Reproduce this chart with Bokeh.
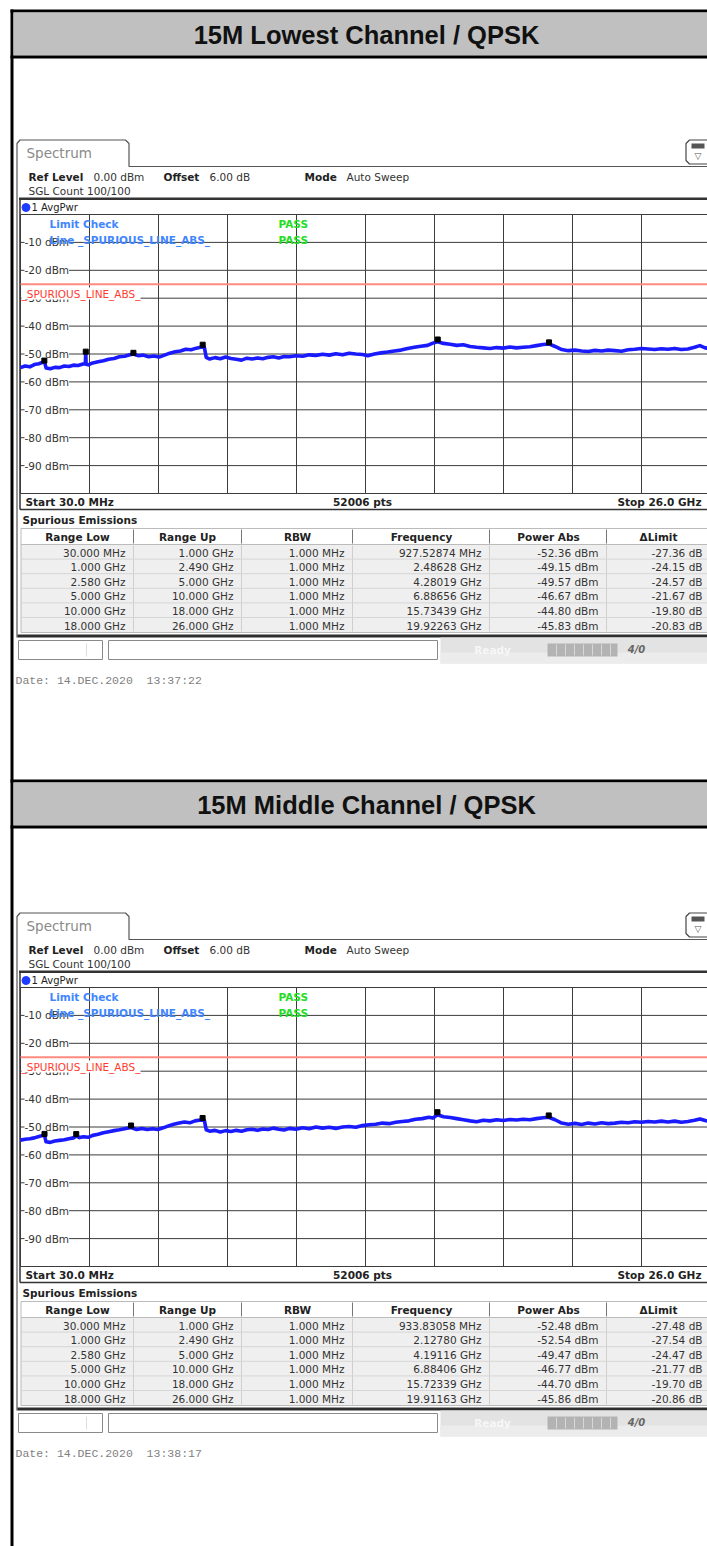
from bokeh.plotting import figure
from bokeh.models import Range1d
from bokeh.core.properties import value
from bokeh.embed import file_html
from bokeh.resources import INLINE

# ---------------- data ----------------
titles = ["15M Lowest Channel / QPSK", "15M Middle Channel / QPSK"]
dates = ["Date: 14.DEC.2020  13:37:22", "Date: 14.DEC.2020  13:38:17"]
f_start_ghz = 0.03
f_stop_ghz = 26.0
n_points = 52006
ref_level = "0.00 dBm"
offset_db = "6.00 dB"
sgl_count = "100/100"
limit_dbm = -25.0
limit_name = "_SPURIOUS_LINE_ABS_"
y_ticks = [-10, -20, -30, -40, -50, -60, -70, -80, -90]

table_header = ["Range Low", "Range Up", "RBW", "Frequency", "Power Abs", "ΔLimit"]
range_low = ["30.000 MHz", "1.000 GHz", "2.580 GHz", "5.000 GHz", "10.000 GHz", "18.000 GHz"]
range_up = ["1.000 GHz", "2.490 GHz", "5.000 GHz", "10.000 GHz", "18.000 GHz", "26.000 GHz"]
rbw = ["1.000 MHz", "1.000 MHz", "1.000 MHz", "1.000 MHz", "1.000 MHz", "1.000 MHz"]

freq_label_1 = ["927.52874 MHz", "2.48628 GHz", "4.28019 GHz", "6.88656 GHz", "15.73439 GHz", "19.92263 GHz"]
marker_ghz_1 = [0.92752874, 2.48628, 4.28019, 6.88656, 15.73439, 19.92263]
power_1 = [-52.36, -49.15, -49.57, -46.67, -44.80, -45.83]
dlimit_1 = [-27.36, -24.15, -24.57, -21.67, -19.80, -20.83]

freq_label_2 = ["933.83058 MHz", "2.12780 GHz", "4.19116 GHz", "6.88406 GHz", "15.72339 GHz", "19.91163 GHz"]
marker_ghz_2 = [0.93383058, 2.12780, 4.19116, 6.88406, 15.72339, 19.91163]
power_2 = [-52.48, -52.54, -49.47, -46.77, -44.70, -45.86]
dlimit_2 = [-27.48, -27.54, -24.47, -21.77, -19.70, -20.86]

trace_ghz_1 = [0.03, 0.20, 0.38, 0.55, 0.72, 0.88, 0.93, 0.99, 1.15, 1.32, 1.50, 1.68, 1.85, 2.02, 2.20,
               2.38, 2.47, 2.486, 2.50, 2.58, 2.75, 2.95, 3.15, 3.35, 3.55, 3.75, 3.95, 4.15, 4.28, 4.45,
               4.65, 4.85, 5.05, 5.25, 5.45, 5.65, 5.85, 6.05, 6.25, 6.45, 6.65, 6.85, 6.95, 7.02, 7.15,
               7.35, 7.55, 7.75, 7.95, 8.15, 8.35, 8.55, 8.75, 8.95, 9.15, 9.35, 9.55, 9.75, 9.95, 10.15,
               10.4, 10.65, 10.9, 11.15, 11.4, 11.65, 11.9, 12.15, 12.4, 12.65, 12.9, 13.1, 13.35, 13.6,
               13.85, 14.1, 14.35, 14.6, 14.85, 15.1, 15.35, 15.55, 15.73, 15.95, 16.2, 16.45, 16.7, 16.95,
               17.2, 17.45, 17.7, 17.95, 18.2, 18.45, 18.7, 18.95, 19.2, 19.45, 19.7, 19.92, 20.15, 20.4,
               20.65, 20.9, 21.15, 21.4, 21.65, 21.9, 22.15, 22.4, 22.65, 22.9, 23.15, 23.4, 23.65, 23.9,
               24.15, 24.4, 24.65, 24.9, 25.15, 25.4, 25.6, 25.8, 26.0]
trace_dbm_1 = [-54.9, -54.3, -54.6, -53.8, -53.5, -52.9, -52.6, -55.0, -55.3, -54.8, -54.9, -54.3, -54.5, -54.0, -54.1,
               -53.6, -53.5, -49.3, -53.7, -53.9, -53.2, -52.8, -52.4, -51.9, -51.6, -51.0, -50.8, -50.3, -50.0, -50.6,
               -50.4, -51.0, -50.7, -51.1, -50.4, -49.7, -49.2, -48.9, -48.3, -48.5, -47.9, -47.5, -47.6, -51.2, -51.8,
               -51.3, -51.7, -51.1, -51.6, -51.9, -52.2, -51.5, -51.8, -51.4, -51.7, -51.2, -51.0, -51.4, -50.9, -51.0,
               -50.6, -50.8, -50.3, -50.5, -50.1, -50.4, -49.9, -50.3, -49.7, -50.0, -50.2, -50.6, -50.0, -49.6,
               -49.3, -48.9, -48.6, -48.0, -47.6, -47.2, -46.9, -46.1, -45.6, -46.2, -46.5, -46.9, -46.7, -47.3,
               -47.6, -47.8, -48.0, -47.7, -47.9, -47.5, -47.8, -47.6, -47.4, -47.0, -46.6, -46.4, -47.3, -48.4,
               -48.8, -48.6, -48.9, -49.1, -48.7, -48.9, -48.6, -48.8, -49.0, -48.5, -48.3, -48.0, -48.2, -48.4,
               -48.1, -48.3, -48.0, -48.4, -48.2, -47.6, -47.0, -47.8, -48.1]

trace_ghz_2 = [0.03, 0.20, 0.38, 0.55, 0.72, 0.88, 0.93, 0.99, 1.15, 1.32, 1.50, 1.68, 1.85, 2.02, 2.13,
               2.25, 2.40, 2.49, 2.58, 2.75, 2.95, 3.15, 3.35, 3.55, 3.75, 3.95, 4.19, 4.40, 4.60, 4.80,
               5.00, 5.20, 5.40, 5.60, 5.80, 6.00, 6.20, 6.40, 6.60, 6.80, 6.95, 7.02, 7.15, 7.35, 7.55,
               7.75, 7.95, 8.15, 8.35, 8.55, 8.75, 8.95, 9.15, 9.35, 9.55, 9.75, 9.95, 10.15, 10.4, 10.65,
               10.9, 11.15, 11.4, 11.65, 11.9, 12.15, 12.4, 12.65, 12.9, 13.15, 13.4, 13.65, 13.9, 14.15,
               14.4, 14.65, 14.9, 15.15, 15.4, 15.55, 15.72, 15.95, 16.2, 16.45, 16.7, 16.95, 17.2, 17.45,
               17.7, 17.95, 18.2, 18.45, 18.7, 18.95, 19.2, 19.45, 19.7, 19.91, 20.15, 20.4, 20.65, 20.9,
               21.15, 21.4, 21.65, 21.9, 22.15, 22.4, 22.65, 22.9, 23.15, 23.4, 23.65, 23.9, 24.15, 24.4,
               24.65, 24.9, 25.15, 25.4, 25.6, 25.8, 26.0]
trace_dbm_2 = [-54.7, -54.4, -54.2, -53.9, -53.4, -53.0, -52.8, -55.3, -55.5, -55.0, -54.8, -54.6, -54.2, -53.9, -53.2,
               -53.8, -53.5, -53.6, -53.7, -53.0, -52.6, -52.1, -51.7, -51.3, -51.0, -50.6, -50.2, -50.9, -50.5, -50.9,
               -50.6, -50.9, -50.3, -49.6, -49.0, -48.6, -48.2, -48.5, -47.8, -47.5, -47.6, -51.0, -51.5, -51.2, -51.8,
               -51.3, -51.6, -51.2, -51.5, -51.0, -50.8, -51.2, -50.7, -50.9, -50.4, -50.8, -51.1, -50.5, -50.8, -50.3,
               -50.6, -50.0, -50.4, -50.1, -50.5, -50.0, -49.8, -50.1, -49.5, -49.2, -49.0, -48.6, -48.8, -48.3,
               -48.0, -47.8, -47.2, -47.0, -46.5, -46.8, -45.6, -46.3, -46.6, -47.0, -47.4, -47.8, -48.1, -47.6,
               -47.8, -47.4, -47.7, -47.3, -47.5, -47.2, -47.4, -47.0, -46.7, -46.5, -47.4, -48.6, -49.0, -48.7,
               -49.1, -48.6, -48.9, -48.5, -48.8, -48.6, -48.3, -48.5, -48.1, -48.3, -48.0, -48.2, -47.9, -48.2,
               -47.9, -48.3, -48.0, -47.6, -47.1, -47.7, -48.0]

# ---------------- layout ----------------
W, H = 707, 1546
X0, Y0 = 0, 0
GRID_L, GRID_R = 20, 710           # page px of start / stop frequency
GRID_T, GRID_B = 214, 493          # page px of 0 dBm / -100 dBm (panel 1)
DY = 773                           # vertical offset of panel 2
K = (f_stop_ghz - f_start_ghz) / (GRID_R - GRID_L)
D = 100.0 / (GRID_B - GRID_T)

p = figure(width=W, height=H, x_range=Range1d(X0, X0 + W), y_range=Range1d(Y0 + H, Y0),
           output_backend="svg", toolbar_location=None, min_border=0,
           x_axis_location=None, y_axis_location=None)
p.grid.visible = False
p.outline_line_color = None
p.background_fill_color = "white"
p.border_fill_color = "white"

p.extra_x_ranges = {"fx": Range1d(f_start_ghz - (GRID_L - X0) * K, f_start_ghz + (X0 + W - GRID_L) * K)}
p.extra_y_ranges = {
    "db0": Range1d(-(Y0 + H - GRID_T) * D, (GRID_T - Y0) * D),
    "db1": Range1d(-(Y0 + H - GRID_T - DY) * D, (GRID_T + DY - Y0) * D),
}

SANS = "DejaVu Sans"


def T(x, y, s, size=11, color="#222222", style="normal", align="left", font=SANS, bg=None,
      xr="default", yr="default"):
    kw = {}
    if bg is not None:
        kw["background_fill_color"] = bg
    p.text(x=[x], y=[y], text=[s], text_font=value(font), text_font_size=f"{size}px",
           text_color=color, text_font_style=style, text_align=align, text_baseline="middle",
           x_range_name=xr, y_range_name=yr, **kw)


def R(l, r, t, b, fill, line=None, lw=1.0):
    p.quad(left=[l], right=[r], top=[t], bottom=[b], fill_color=fill, line_color=line, line_width=lw)


def L(xs, ys, color="#333333", lw=1.0):
    p.line(xs, ys, line_color=color, line_width=lw)


# page left border
R(10, 13, 9, 1546, "black")


def header(top, title):
    R(10, 720, top - 1, top + 2, "black")
    R(13, 720, top + 2, top + 45, "#c0c0c0")
    R(10, 720, top + 45, top + 48, "black")
    T(366, top + 24, title, size=25.5, color="#111111", style="bold", align="center", font="Liberation Sans")


def panel(dy, yname, trace_f, trace_db, mk_f, mk_db, freq_lbl, pw, dl, date):
    # tab + frame
    L([16.5, 16.5, 19.5, 125, 128.5, 128.5, 720], [xx + dy for xx in [637, 143, 139.5, 139.5, 143, 166, 166]],
      color="#555555", lw=1.2)
    # menu icon
    L([712, 689, 685.5, 685.5, 689, 712], [xx + dy for xx in [139.5, 139.5, 143, 160, 163.5, 163.5]],
      color="#444444", lw=1.2)
    R(691, 704, 143 + dy, 148 + dy, "#555555")
    T(697.5, 155 + dy, "▽", size=9, color="#555555", align="center")
    T(26, 152 + dy, "Spectrum", size=13.5, color="#8a8a8a")
    # info lines
    T(28, 176 + dy, "Ref Level", size=10.5, style="bold")
    T(93, 176 + dy, ref_level, size=10.5, color="#333333")
    T(163, 176 + dy, "Offset", size=10.5, style="bold")
    T(209, 176 + dy, offset_db, size=10.5, color="#333333")
    T(304, 176 + dy, "Mode", size=10.5, style="bold")
    T(346, 176 + dy, "Auto Sweep", size=10.5, color="#333333")
    T(28, 190 + dy, f"SGL Count {sgl_count}", size=10.5, color="#333333")
    # diagram box
    R(18.5, 720, 197 + dy, 199.5 + dy, "#333333")
    L([19.5, 19.5], [199 + dy, 509 + dy], color="#333333", lw=1.5)
    p.scatter([25.5], [207 + dy], size=8, color="#1e3cff")
    T(31, 207 + dy, "1 AvgPwr", size=10, color="#222222")

    # grid in data units
    h_db = [0] + y_ticks + [-100]
    p.segment(x0=[f_start_ghz] * len(h_db), x1=[f_stop_ghz] * len(h_db), y0=h_db, y1=h_db,
              line_color="#3c3c3c", line_width=1, x_range_name="fx", y_range_name=yname)
    v_f = [f_start_ghz + i * (f_stop_ghz - f_start_ghz) / 10 for i in range(11)]
    p.segment(x0=v_f, x1=v_f, y0=[-100] * 11, y1=[0] * 11,
              line_color="#3c3c3c", line_width=1, x_range_name="fx", y_range_name=yname)
    for v in y_ticks:
        T(24, v, f"{v} dBm", size=10.5, color="#333333", bg="white", yr=yname)
    # limit line
    p.segment(x0=[f_start_ghz], x1=[f_stop_ghz], y0=[limit_dbm], y1=[limit_dbm],
              line_color="#ff8a80", line_width=2, x_range_name="fx", y_range_name=yname)
    T(21, 293 + dy, limit_name, size=10.5, color="#ff3b30", bg="white")
    T(49, 223 + dy, "Limit Check", size=10.5, color="#3f86ff", style="bold")
    T(49, 239 + dy, f"Line {limit_name}", size=10.5, color="#3f86ff", style="bold")
    T(278, 223 + dy, "PASS", size=10.5, color="#22dd22", style="bold")
    T(278, 239 + dy, "PASS", size=10.5, color="#22dd22", style="bold")
    # trace + markers
    p.line(trace_f, trace_db, line_color="#1a1aff", line_width=3.6, line_join="round",
           x_range_name="fx", y_range_name=yname)
    p.scatter(mk_f, mk_db, marker="square", size=5, color="black", x_range_name="fx", y_range_name=yname)

    # start / stop row
    T(25, 501 + dy, f"Start {f_start_ghz * 1000:.1f} MHz", size=10.5, style="bold")
    T(362, 501 + dy, f"{n_points} pts", size=10.5, style="bold", align="center")
    T(701, 501 + dy, f"Stop {f_stop_ghz:.1f} GHz", size=10.5, style="bold", align="right")
    L([19.5, 720], [509 + dy, 509 + dy], color="#333333", lw=1.5)

    # table
    T(22, 519 + dy, "Spurious Emissions", size=10.5, style="bold")
    cols = [20, 133, 241, 352, 489, 606, 720]
    R(20.5, 720, 528 + dy, 544 + dy, "white", "#bbbbbb", 1)
    R(20.5, 720, 544 + dy, 632 + dy, "#efefef", "#bbbbbb", 1)
    for c in cols[1:-1]:
        L([c, c], [529 + dy, 543 + dy], color="#777777", lw=1)
        L([c, c], [545 + dy, 631 + dy], color="#cfcfcf", lw=1)
    for i in range(1, 6):
        yy = 544 + i * 14.6 + dy
        L([21, 720], [yy, yy], color="#d6d6d6", lw=1)
    centers = [77, 187, 297, 421, 548, 658]
    for c, h in zip(centers, table_header):
        T(c, 536 + dy, h, size=10.5, style="bold", align="center")
    rights = [125, 233, 344, 481, 598, 702]
    for i in range(6):
        yy = 552 + i * 14.6 + dy
        row = [range_low[i], range_up[i], rbw[i], freq_lbl[i], f"{pw[i]:.2f} dBm", f"{dl[i]:.2f} dB"]
        for rx, s in zip(rights, row):
            T(rx, yy, s, size=10.5, color="#333333", align="right")
    R(17, 720, 634 + dy, 637 + dy, "#2e2e2e")

    # status bar
    R(440, 720, 637 + dy, 663 + dy, "#e3e3e3")
    R(440, 720, 652 + dy, 663 + dy, "#ececec")
    R(18, 102, 640 + dy, 659 + dy, "white", "#8a8a8a", 1)
    L([86, 86], [643 + dy, 656 + dy], color="#dddddd", lw=1)
    R(108, 437, 640 + dy, 659 + dy, "white", "#8a8a8a", 1)
    T(492, 649 + dy, "Ready", size=10.5, color="#f7f7f7", style="bold", align="center")
    R(547, 617, 643 + dy, 656 + dy, "#b3b3b3")
    for xx in [556, 565, 574, 583, 592, 601, 610]:
        L([xx, xx], [644 + dy, 655 + dy], color="#d8d8d8", lw=1)
    T(636, 649 + dy, "4/0", size=10, color="#666666", style="bold italic", align="center")

    # date (keep the double space visible in SVG)
    T(15, 680 + dy, date.replace("  ", "\u00a0 "), size=11.5, color="#7f7f7f", font="Liberation Mono")


header(10, titles[0])
panel(0, "db0", trace_ghz_1, trace_dbm_1, marker_ghz_1, power_1, freq_label_1, power_1, dlimit_1, dates[0])
header(780, titles[1])
panel(DY, "db1", trace_ghz_2, trace_dbm_2, marker_ghz_2, power_2, freq_label_2, power_2, dlimit_2, dates[1])

open("out.html", "w").write(file_html(p, INLINE))
